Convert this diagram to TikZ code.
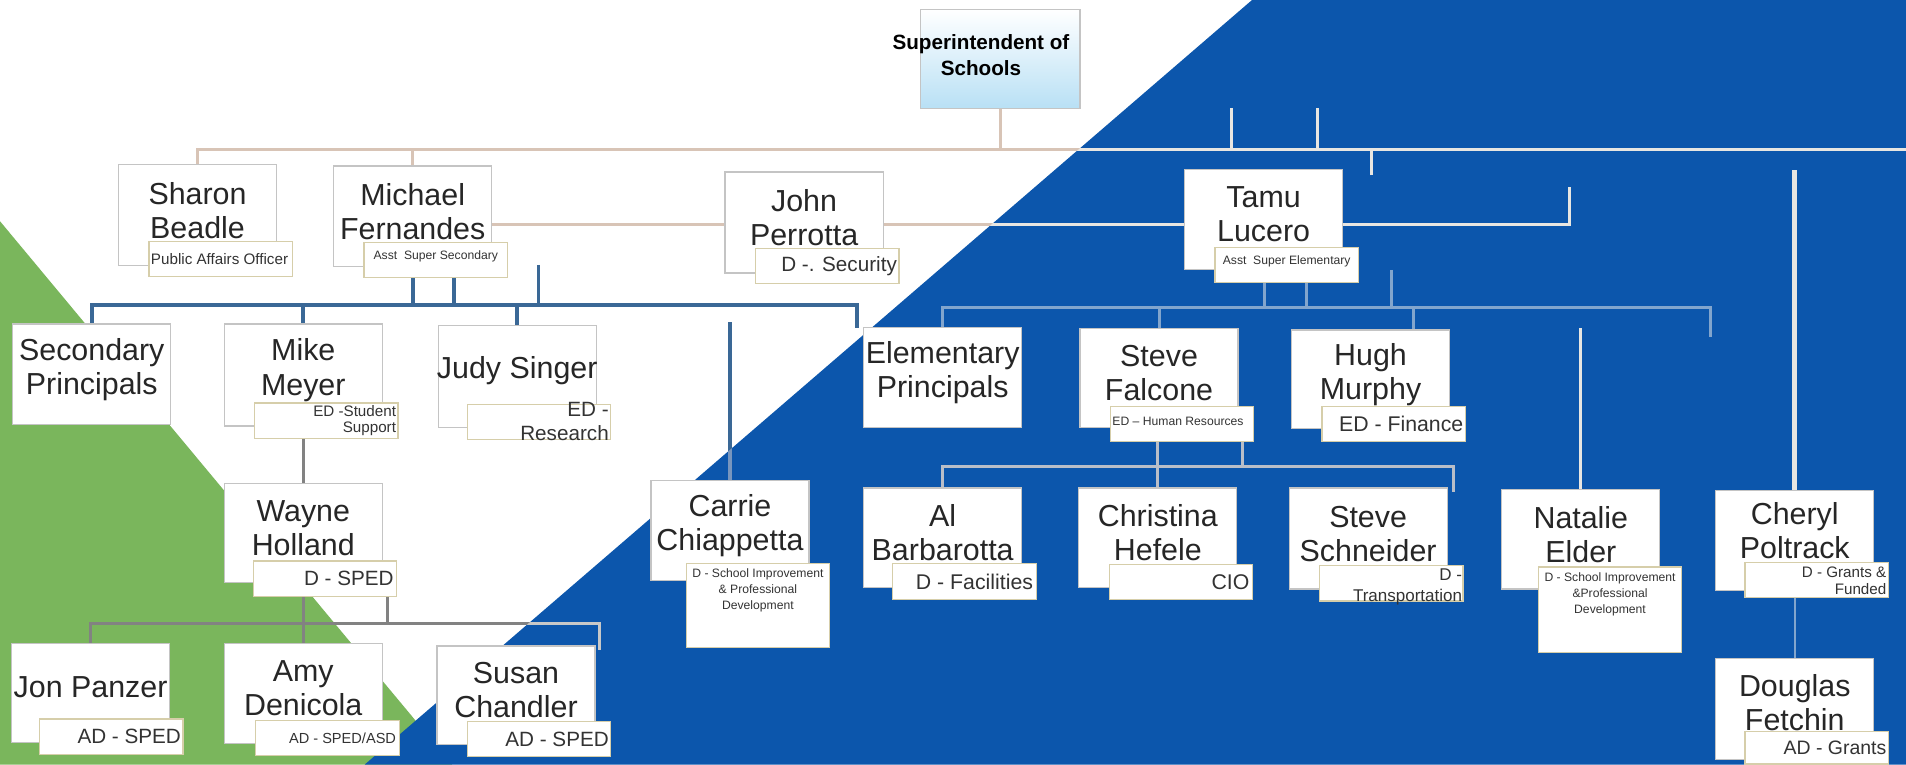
\documentclass[tikz,border=0pt]{standalone}
\usepackage{fontspec}
\setmainfont{Liberation Sans}
\usetikzlibrary{calc,positioning}

\pgfdeclarelayer{bg}
\pgfdeclarelayer{links}
\pgfsetlayers{bg,links,main}

\definecolor{chartblue}{RGB}{12,86,172}
\definecolor{chartgreen}{RGB}{122,182,92}
\definecolor{tancol}{RGB}{216,196,182}
\definecolor{palecol}{RGB}{232,230,226}
\definecolor{steelcol}{RGB}{58,104,150}
\definecolor{steelpale}{RGB}{120,150,190}
\definecolor{greycol}{RGB}{130,130,130}
\definecolor{greypale}{RGB}{200,200,200}
\definecolor{mistcol}{RGB}{130,165,205}
\definecolor{falccol}{RGB}{185,190,200}
\definecolor{subedge}{RGB}{214,206,170}
\definecolor{boxedge}{RGB}{196,196,196}
\definecolor{skyfill}{RGB}{184,224,245}

\newcommand{\orglinks}{%
  \draw[toplink] (super.south) -- (super.south |- topend);
  \draw[toplink] (sharon.north) |- (topend);
  \draw[toplink] (michael.north) -- (michael.north |- topend);
  \draw[toplink] (tickA) -- (tickA |- topend);
  \draw[toplink] (tickB) -- (tickB |- topend);
  \draw[toplink] (tickC) -- (tickC |- topend);
  \draw[toplink] (michael.east |- mjt) -- (john.west |- mjt);
  \draw[toplink] (john.east |- mjt) -- (tamu.west |- mjt);
  \draw[toplink] (tamu.east |- mjt) -| (hookend);
  \draw[seclink] (secprin.north) |- (secdrop |- secbus) -- (secdrop);
  \draw[seclink] (mike.north) -- (mike.north |- secbus);
  \draw[seclink] (judy.north) -- (judy.north |- secbus);
  \draw[seclink] (mfA) -- (mfA |- secbus);
  \draw[seclink] (mfB) -- (mfB |- secbus);
  \draw[seclink] (secfree) -- (secfree |- secbus);
  \draw[seclink] (carrie.north |- carriefree) -- (carrie.north);
  \draw[waynelink] (mike-s.south -| wayne.north) -- (wayne.north);
  \draw[waynelink] (jon.north) |- (waynedrop |- waynebus) -- (waynedrop);
  \draw[waynelink] (wayne-s.south -| amy.north) -- (amy.north);
  \draw[waynelink] (wdB) -- (wdB |- waynebus);
}

\begin{document}
\begin{tikzpicture}[x=1pt,y=-1pt,
  pbox/.style={draw=boxedge,fill=white,line width=1pt,inner sep=0pt,minimum width=130pt,minimum height=82pt,anchor=north west},
  sbox/.style={draw=subedge,fill=white,line width=1pt,inner sep=0pt,minimum width=118pt,minimum height=29pt,anchor=south east},
  pname/.style={align=center,inner sep=0pt,text=black!85,font=\fontsize{25}{28}\selectfont},
  stext/.style={inner sep=0pt,text=black!80},
  bluezone/.style={insert path={(1030,0) -- (1568,0) -- (1568,629) -- (300,629) -- cycle}},
  toplink/.style={draw=tancol,line width=2.5pt},
  seclink/.style={draw=steelcol,line width=3pt},
  waynelink/.style={draw=greycol,line width=2.5pt},
  tamulink/.style={draw=mistcol,line width=2.5pt},
  falclink/.style={draw=falccol,line width=2.5pt},
  natlink/.style={draw=palecol,line width=2.5pt},
  chlink/.style={draw=palecol,line width=4pt},
  douglink/.style={draw=mistcol,line width=2pt}
]
\useasboundingbox (0,0) rectangle (1568,629);

\begin{pgfonlayer}{bg}
\fill[white] (0,0) rectangle (1568,629);
\fill[chartgreen] (0,182) -- (372,629) -- (0,629) -- cycle;
\fill[chartblue, bluezone];
\end{pgfonlayer}

\node[pbox, minimum width=131pt, top color=white, bottom color=skyfill] (super) at (757,7) {};
\node[pbox, minimum height=83pt] (sharon) at (97,135) {};
\node[pbox, minimum height=83pt] (michael) at (274,136) {};
\node[pbox, minimum height=83pt] (john) at (596,141) {};
\node[pbox] (tamu) at (974,139) {};
\node[pbox, minimum height=83pt] (secprin) at (10,266) {};
\node[pbox, minimum height=84pt] (mike) at (184,266) {};
\node[pbox, minimum height=84pt] (judy) at (360,267) {};
\node[pbox] (elem) at (710,269) {};
\node[pbox, minimum height=81pt] (steve) at (888,270) {};
\node[pbox, minimum height=81pt] (hugh) at (1062,271) {};
\node[pbox] (carrie) at (535,395) {};
\node[pbox] (wayne) at (184,397) {};
\node[pbox] (al) at (710,401) {};
\node[pbox] (christina) at (887,401) {};
\node[pbox, minimum height=83pt] (schneider) at (1060,401) {};
\node[pbox] (natalie) at (1235,402) {};
\node[pbox] (cheryl) at (1411,403) {};
\node[pbox, minimum height=81pt] (jon) at (9,529) {};
\node[pbox] (amy) at (184,529) {};
\node[pbox, minimum height=81pt] (susan) at (359,531) {};
\node[pbox, minimum height=83pt] (douglas) at (1411,541) {};

\node[sbox] (sharon-s) at ([shift={(13,9)}]sharon.south east) {};
\node[sbox] (michael-s) at ([shift={(13,9)}]michael.south east) {};
\node[sbox] (john-s) at ([shift={(13,9)}]john.south east) {};
\node[sbox] (tamu-s) at ([shift={(13,11)}]tamu.south east) {};
\node[sbox] (mike-s) at ([shift={(13,10)}]mike.south east) {};
\node[sbox] (judy-s) at ([shift={(12,10)}]judy.south east) {};
\node[sbox] (steve-s) at ([shift={(13,12)}]steve.south east) {};
\node[sbox] (hugh-s) at ([shift={(13,11)}]hugh.south east) {};
\node[sbox, minimum height=69pt] (carrie-s) at ([shift={(17,55)}]carrie.south east) {};
\node[sbox] (wayne-s) at ([shift={(12,11)}]wayne.south east) {};
\node[sbox, minimum height=30pt] (al-s) at ([shift={(12,10)}]al.south east) {};
\node[sbox] (christina-s) at ([shift={(13,10)}]christina.south east) {};
\node[sbox] (schneider-s) at ([shift={(13,10)}]schneider.south east) {};
\node[sbox, minimum height=70pt] (natalie-s) at ([shift={(18,52)}]natalie.south east) {};
\node[sbox] (cheryl-s) at ([shift={(12,6)}]cheryl.south east) {};
\node[sbox] (jon-s) at ([shift={(11,10)}]jon.south east) {};
\node[sbox] (amy-s) at ([shift={(14,10)}]amy.south east) {};
\node[sbox] (susan-s) at ([shift={(13,10)}]susan.south east) {};
\node[sbox, minimum height=27pt] (douglas-s) at ([shift={(12,4)}]douglas.south east) {};

\node[align=center, inner sep=0pt, font=\bfseries\fontsize{17}{21}\selectfont] (super-t) at ([xshift=-16pt,yshift=3pt]super.center) {Superintendent of\\Schools};
\node[pname] (sharon-t) at ([yshift=4pt]sharon.center) {Sharon\\Beadle};
\node[pname] (michael-t) at ([yshift=4pt]michael.center) {Michael\\Fernandes};
\node[pname] (john-t) at ([yshift=4pt]john.center) {John\\Perrotta};
\node[pname] (tamu-t) at ([yshift=4pt]tamu.center) {Tamu\\Lucero};
\node[pname] (secprin-t) at ([yshift=4pt]secprin.center) {Secondary\\Principals};
\node[pname] (mike-t) at ([yshift=4pt]mike.center) {Mike\\Meyer};
\node[pname] (judy-t) at ([yshift=5pt]judy.center) {Judy Singer};
\node[pname] (elem-t) at ([yshift=4pt]elem.center) {Elementary\\Principals};
\node[pname] (steve-t) at ([yshift=4pt]steve.center) {Steve\\Falcone};
\node[pname] (hugh-t) at ([yshift=4pt]hugh.center) {Hugh\\Murphy};
\node[pname] (carrie-t) at ([yshift=4pt]carrie.center) {Carrie\\Chiappetta};
\node[pname] (wayne-t) at ([yshift=4pt]wayne.center) {Wayne\\Holland};
\node[pname] (al-t) at ([yshift=4pt]al.center) {Al\\Barbarotta};
\node[pname] (christina-t) at ([yshift=4pt]christina.center) {Christina\\Hefele};
\node[pname] (schneider-t) at ([yshift=4pt]schneider.center) {Steve\\Schneider};
\node[pname] (natalie-t) at ([yshift=4pt]natalie.center) {Natalie\\Elder};
\node[pname] (cheryl-t) at ([yshift=8pt]cheryl.center) {Cheryl\\Poltrack};
\node[pname] (jon-t) at ([yshift=5pt]jon.center) {Jon Panzer};
\node[pname] (amy-t) at ([yshift=4pt]amy.center) {Amy\\Denicola};
\node[pname] (susan-t) at ([yshift=4pt]susan.center) {Susan\\Chandler};
\node[pname] (douglas-t) at ([yshift=5pt]douglas.center) {Douglas\\Fetchin};

\node[stext, anchor=west, font=\fontsize{12.5}{14}\selectfont] (sharon-st) at ([xshift=2pt]sharon-s.west) {Public Affairs Officer};
\node[stext, font=\fontsize{10}{12}\selectfont] (michael-st) at ([yshift=3pt]michael-s.center) {Asst~~Super Secondary};
\node[stext, anchor=east, font=\fontsize{17}{20}\selectfont] (john-st) at ([xshift=-2pt]john-s.east) {D -. Security};
\node[stext, font=\fontsize{10}{12}\selectfont] (tamu-st) at ([yshift=3pt]tamu-s.center) {Asst~~Super Elementary};
\node[stext, anchor=east, align=right, font=\fontsize{12.5}{13}\selectfont] (mike-st) at ([xshift=-2pt]mike-s.east) {ED -Student\\Support};
\node[stext, anchor=east, align=right, font=\fontsize{17}{20}\selectfont] (judy-st) at ([xshift=-2pt]judy-s.east) {ED -\\Research};
\node[stext, anchor=west, font=\fontsize{10}{12}\selectfont] (steve-st) at ([xshift=2pt,yshift=2pt]steve-s.west) {ED – Human Resources};
\node[stext, anchor=east, font=\fontsize{17.5}{20}\selectfont] (hugh-st) at ([xshift=-2pt]hugh-s.east) {ED - Finance};
\node[stext, anchor=north, align=center, font=\fontsize{10}{13}\selectfont] (carrie-st) at ([yshift=-5pt]carrie-s.north) {D - School Improvement\\\& Professional\\Development};
\node[stext, anchor=east, font=\fontsize{17}{20}\selectfont] (wayne-st) at ([xshift=-3pt]wayne-s.east) {D - SPED};
\node[stext, anchor=east, font=\fontsize{17.5}{20}\selectfont] (al-st) at ([xshift=-3pt]al-s.east) {D - Facilities};
\node[stext, anchor=east, font=\fontsize{17.5}{20}\selectfont] (christina-st) at ([xshift=-3pt]christina-s.east) {CIO};
\node[stext, anchor=east, align=right, font=\fontsize{14}{17}\selectfont] (schneider-st) at ([xshift=-1pt,yshift=-3pt]schneider-s.east) {D -\\Transportation};
\node[stext, anchor=north, align=center, font=\fontsize{10}{13}\selectfont] (natalie-st) at ([yshift=-5pt]natalie-s.north) {D - School Improvement\\\&Professional\\Development};
\node[stext, anchor=east, align=right, font=\fontsize{12.5}{14}\selectfont] (cheryl-st) at ([xshift=-2pt,yshift=-1pt]cheryl-s.east) {D - Grants \&\\Funded};
\node[stext, anchor=east, font=\fontsize{17}{20}\selectfont] (jon-st) at ([xshift=-2pt]jon-s.east) {AD - SPED};
\node[stext, anchor=east, font=\fontsize{12}{14}\selectfont] (amy-st) at ([xshift=-3pt]amy-s.east) {AD - SPED/ASD};
\node[stext, anchor=east, font=\fontsize{17}{20}\selectfont] (susan-st) at ([xshift=-2pt]susan-s.east) {AD - SPED};
\node[stext, anchor=east, font=\fontsize{16}{18}\selectfont] (douglas-st) at ([xshift=-2pt]douglas-s.east) {AD - Grants};

\coordinate (topend) at (1568,123);
\coordinate (tickA) at (1013,89);
\coordinate (tickB) at (1084,89);
\coordinate (tickC) at (1128,144);
\coordinate (mjt) at (0,185);
\coordinate (hookend) at (1291,154);
\coordinate (secbus) at (0,251);
\coordinate (secdrop) at (705,270);
\coordinate (secfree) at (443,218);
\coordinate (carriefree) at (0,265);
\coordinate (mfA) at ([xshift=-19pt]michael-s.south);
\coordinate (mfB) at ([xshift=15pt]michael-s.south);
\coordinate (waynebus) at (0,513);
\coordinate (waynedrop) at (493,535);
\coordinate (wdB) at ([xshift=51pt]wayne-s.south);
\coordinate (tamubus) at (0,253);
\coordinate (tamudrop) at (1407,277);
\coordinate (hughdrop) at (1163,271);
\coordinate (tamufree) at (1145,222);
\coordinate (tlA) at ([xshift=-18pt]tamu-s.south);
\coordinate (tlB) at ([xshift=16pt]tamu-s.south);
\coordinate (natfree) at (0,270);
\coordinate (chfree) at (0,140);
\coordinate (falcbus) at (0,384);
\coordinate (falcdrop) at (1196,405);
\coordinate (fdB) at ([xshift=-10pt]steve-s.south east);

\begin{pgfonlayer}{links}
\orglinks
\begin{scope}
  \clip[bluezone];
  \begin{scope}[toplink/.style={draw=palecol,line width=2.5pt},
                seclink/.style={draw=steelpale,line width=3pt},
                waynelink/.style={draw=greypale,line width=2.5pt}]
    \orglinks
  \end{scope}
\end{scope}
\draw[tamulink] (elem.north) |- (tamudrop |- tamubus) -- (tamudrop);
\draw[tamulink] (steve.north) -- (steve.north |- tamubus);
\draw[tamulink] (hughdrop |- tamubus) -- (hughdrop);
\draw[tamulink] (tlA) -- (tlA |- tamubus);
\draw[tamulink] (tlB) -- (tlB |- tamubus);
\draw[tamulink] (tamufree) -- (tamufree |- tamubus);
\draw[natlink] (natalie.north |- natfree) -- (natalie.north);
\draw[chlink] (cheryl.north |- chfree) -- (cheryl.north);
\draw[douglink] (cheryl-s.south -| douglas.north) -- (douglas.north);
\draw[falclink] (al.north) |- (falcdrop |- falcbus) -- (falcdrop);
\draw[falclink] (steve-s.south -| christina.north) -- (christina.north);
\draw[falclink] (fdB) -- (fdB |- falcbus);
\end{pgfonlayer}
\end{tikzpicture}
\end{document}
